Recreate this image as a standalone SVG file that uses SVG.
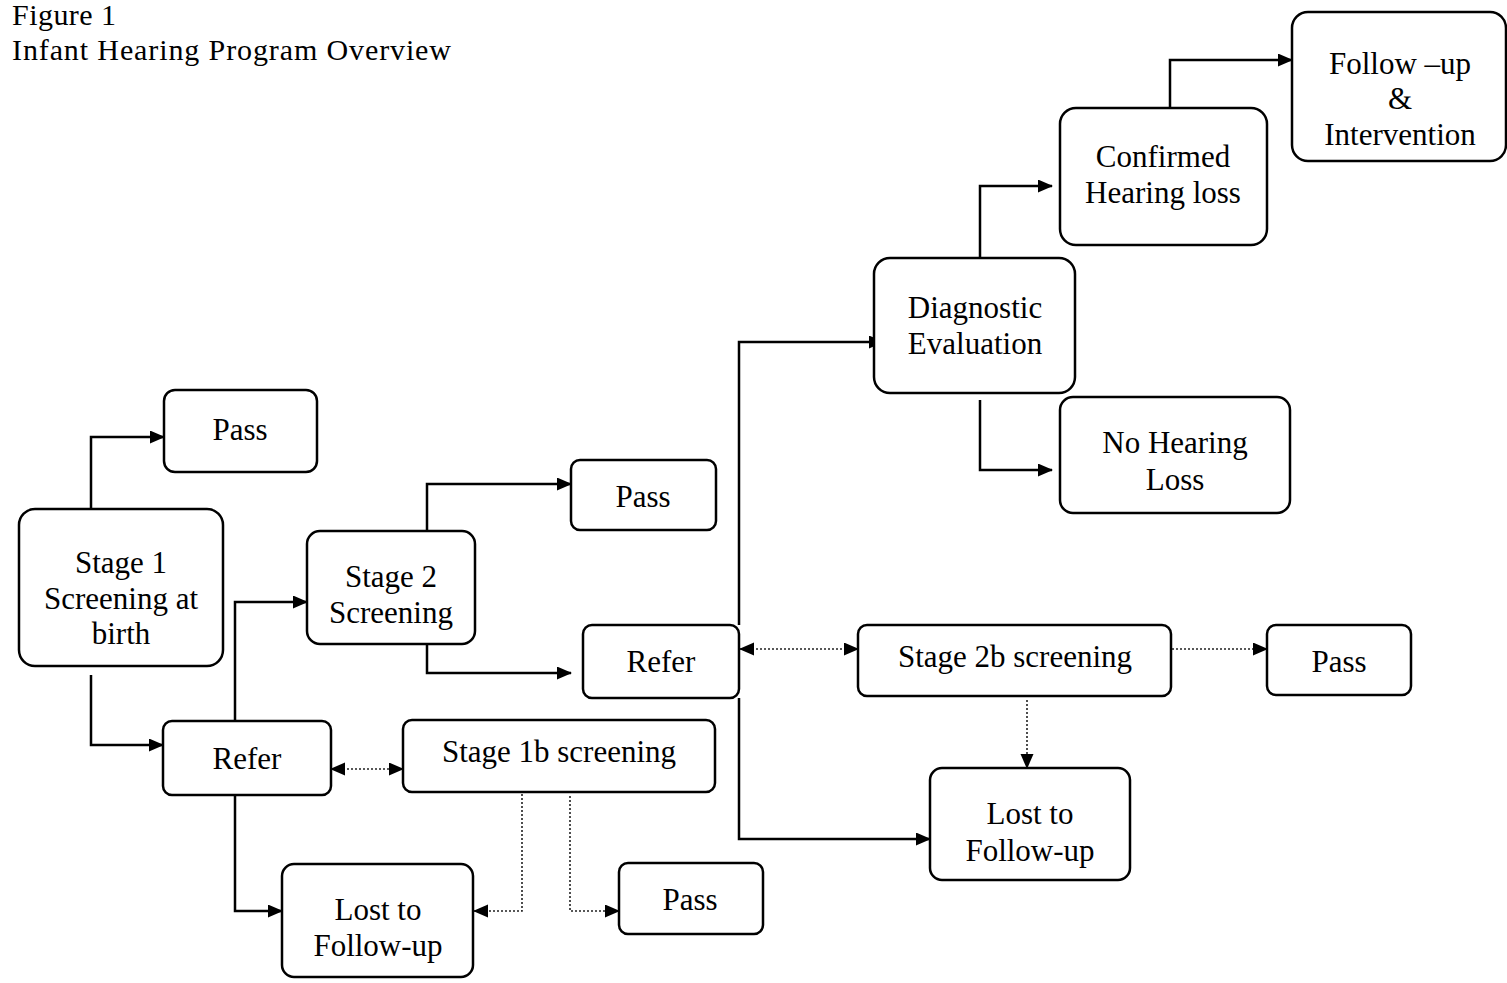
<svg xmlns="http://www.w3.org/2000/svg" width="1507" height="983" viewBox="0 0 1507 983">
<style>
.box{fill:#fff;stroke:#000;stroke-width:2.5}
.t{font-family:"Liberation Serif","Times New Roman",serif;font-size:31px;fill:#000;text-anchor:middle}
.title{font-family:"Liberation Serif","Times New Roman",serif;font-size:30px;fill:#000}
.c{fill:none;stroke:#000;stroke-width:2.5}
.d{fill:none;stroke:#222;stroke-width:1.6;stroke-dasharray:2 2}
</style>
<defs>
<marker id="a" markerUnits="userSpaceOnUse" markerWidth="16" markerHeight="14" refX="14" refY="6.5" orient="auto-start-reverse"><path d="M0,0 L15,6.5 L0,13 z" fill="#000"/></marker>
</defs>
<rect width="1507" height="983" fill="#fff"/>
<g id="title">
<text class="title" x="12" y="25" textLength="104" lengthAdjust="spacing">Figure 1</text>
<text class="title" x="12" y="60" textLength="439" lengthAdjust="spacing">Infant Hearing Program Overview</text>
</g>
<g id="connectors">
<path class="c" d="M91,509 V437 H164" marker-end="url(#a)"/>
<path class="c" d="M91,675 V745 H163" marker-end="url(#a)"/>
<path class="c" d="M235,721 V602 H307" marker-end="url(#a)"/>
<path class="c" d="M235,795 V911 H282" marker-end="url(#a)"/>
<path class="c" d="M427,531 V484 H571" marker-end="url(#a)"/>
<path class="c" d="M427,644 V673 H571" marker-end="url(#a)"/>
<path class="c" d="M739,625 V342 H883" marker-end="url(#a)"/>
<path class="c" d="M739,698 V839 H930" marker-end="url(#a)"/>
<path class="c" d="M980,258 V186 H1052" marker-end="url(#a)"/>
<path class="c" d="M980,400 V470 H1052" marker-end="url(#a)"/>
<path class="c" d="M1170,108 V60 H1292" marker-end="url(#a)"/>
<path class="d" d="M331,769 H403" marker-start="url(#a)" marker-end="url(#a)"/>
<path class="d" d="M522,794 V911 H474" marker-end="url(#a)"/>
<path class="d" d="M570,796 V911 H619" marker-end="url(#a)"/>
<path class="d" d="M740,649 H858" marker-start="url(#a)" marker-end="url(#a)"/>
<path class="d" d="M1172,649 H1267" marker-end="url(#a)"/>
<path class="d" d="M1027,700 V768" marker-end="url(#a)"/>
</g>
<g id="pass1"><rect class="box" x="164" y="390" width="153" height="82" rx="11"/><text class="t" x="240" y="440">Pass</text></g>
<g id="stage1"><rect class="box" x="19" y="509" width="204" height="157" rx="16"/><text class="t" x="121" y="573">Stage 1</text><text class="t" x="121" y="609">Screening at</text><text class="t" x="121" y="644">birth</text></g>
<g id="stage2"><rect class="box" x="307" y="531" width="168" height="113" rx="13"/><text class="t" x="391" y="587">Stage 2</text><text class="t" x="391" y="623">Screening</text></g>
<g id="pass2"><rect class="box" x="571" y="460" width="145" height="70" rx="9"/><text class="t" x="643" y="507">Pass</text></g>
<g id="refer2"><rect class="box" x="583" y="625" width="156" height="73" rx="9"/><text class="t" x="661" y="672">Refer</text></g>
<g id="refer1"><rect class="box" x="163" y="721" width="168" height="74" rx="9"/><text class="t" x="247" y="769">Refer</text></g>
<g id="stage1b"><rect class="box" x="403" y="720" width="312" height="72" rx="9"/><text class="t" x="559" y="762">Stage 1b screening</text></g>
<g id="lost1"><rect class="box" x="282" y="864" width="191" height="113" rx="12"/><text class="t" x="378" y="920">Lost to</text><text class="t" x="378" y="956">Follow-up</text></g>
<g id="pass3"><rect class="box" x="619" y="863" width="144" height="71" rx="9"/><text class="t" x="690" y="910">Pass</text></g>
<g id="diagnostic"><rect class="box" x="874" y="258" width="201" height="135" rx="16"/><text class="t" x="975" y="318">Diagnostic</text><text class="t" x="975" y="354">Evaluation</text></g>
<g id="confirmed"><rect class="box" x="1060" y="108" width="207" height="137" rx="16"/><text class="t" x="1163" y="167">Confirmed</text><text class="t" x="1163" y="203">Hearing loss</text></g>
<g id="followup"><rect class="box" x="1292" y="12" width="214" height="149" rx="16"/><text class="t" x="1400" y="74">Follow –up</text><text class="t" x="1400" y="109">&amp;</text><text class="t" x="1400" y="145">Intervention</text></g>
<g id="nohearing"><rect class="box" x="1060" y="397" width="230" height="116" rx="13"/><text class="t" x="1175" y="453">No Hearing</text><text class="t" x="1175" y="490">Loss</text></g>
<g id="stage2b"><rect class="box" x="858" y="625" width="313" height="71" rx="9"/><text class="t" x="1015" y="667">Stage 2b screening</text></g>
<g id="pass4"><rect class="box" x="1267" y="625" width="144" height="70" rx="9"/><text class="t" x="1339" y="672">Pass</text></g>
<g id="lost2"><rect class="box" x="930" y="768" width="200" height="112" rx="12"/><text class="t" x="1030" y="861">Follow-up</text><text class="t" x="1030" y="824">Lost to</text></g>
</svg>
